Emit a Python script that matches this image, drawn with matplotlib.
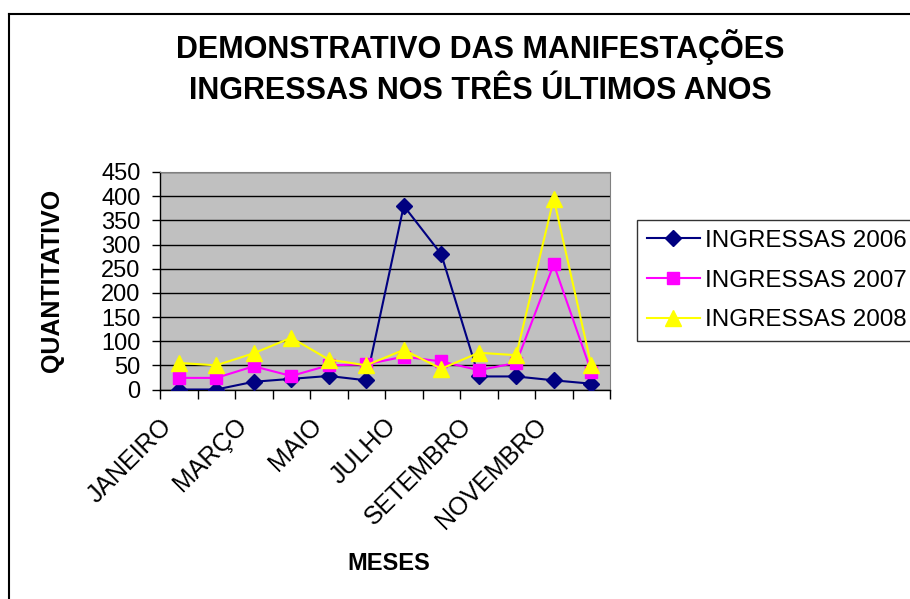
import matplotlib
matplotlib.use("Agg")
import matplotlib.pyplot as plt
from matplotlib.lines import Line2D
from matplotlib.transforms import ScaledTranslation
import numpy as np

plt.rcParams['font.family'] = ['Liberation Sans', 'DejaVu Sans']

meses = ['JANEIRO', 'FEVEREIRO', 'MARÇO', 'ABRIL', 'MAIO', 'JUNHO',
         'JULHO', 'AGOSTO', 'SETEMBRO', 'OUTUBRO', 'NOVEMBRO', 'DEZEMBRO']
ingressas_2006 = [0, 0, 16, 22, 28, 19, 380, 280, 27, 27, 19, 12]
ingressas_2007 = [24, 24, 48, 28, 50, 52, 68, 58, 40, 55, 259, 37]
ingressas_2008 = [55, 50, 75, 107, 62, 50, 82, 43, 76, 71, 395, 50]
series_labels = ['INGRESSAS 2006', 'INGRESSAS 2007', 'INGRESSAS 2008']

W, H = 910, 599
fig = plt.figure(figsize=(W / 100, H / 100), dpi=100)
fig.patch.set_facecolor('white')

# plot area in pixels
x0, y0, x1, y1 = 160, 172, 610, 389.5
ax = fig.add_axes([x0 / W, 1 - y1 / H, (x1 - x0) / W, (y1 - y0) / H])
ax.set_facecolor('#C0C0C0')

x = np.arange(len(meses))
ax.plot(x, ingressas_2006, color='#000080', lw=1.5, marker='D', ms=8,
        mfc='#000080', mec='#000080', label=series_labels[0], zorder=3)
ax.plot(x, ingressas_2007, color='#FF00FF', lw=1.5, marker='s', ms=9,
        mfc='#FF00FF', mec='#FF00FF', label=series_labels[1], zorder=3)
ax.plot(x, ingressas_2008, color='#FFFF00', lw=1.5, marker='^', ms=11,
        mfc='#FFFF00', mec='#FFFF00', label=series_labels[2], zorder=3)

ax.set_xlim(-0.5, len(meses) - 0.5)
ax.set_ylim(0, 450)
ax.set_yticks(np.arange(0, 451, 50))
ax.yaxis.grid(True, color='black', lw=1)
ax.set_axisbelow(True)

# x ticks between categories, labels every other month
ax.set_xticks(np.arange(-0.5, len(meses), 1), minor=True)
ax.set_xticks(x[::2])
ax.set_xticklabels(meses[::2], rotation=45, ha='right', va='center',
                   rotation_mode='anchor', fontsize=18)
ax.tick_params(axis='x', which='major', length=0, pad=25)
ax.tick_params(axis='x', which='minor', length=6.5, width=1, direction='out')
ax.tick_params(axis='y', length=6, width=1, direction='out', labelsize=17, pad=8)
shift = ScaledTranslation(-11 / 100, 2 / 100, fig.dpi_scale_trans)
for lab in ax.get_xticklabels():
    lab.set_transform(lab.get_transform() + shift)

for s in ['top', 'right']:
    ax.spines[s].set_color('#808080')
for s in ['left', 'bottom']:
    ax.spines[s].set_color('black')
    ax.spines[s].set_linewidth(1)

ax.set_xlabel('MESES', fontsize=17, fontweight='bold')
ax.xaxis.set_label_coords((389 - x0) / (x1 - x0), -(552 - y1) / (y1 - y0))
ax.set_ylabel('QUANTITATIVO', fontsize=18, fontweight='bold')
ax.yaxis.set_label_coords(-(x0 - 64) / (x1 - x0), 0.5)

cx = 480 / W
fig.text(cx, 1 - 58 / H, 'DEMONSTRATIVO DAS MANIFESTAÇÕES',
         ha='center', va='baseline', fontsize=22, fontweight='bold')
fig.text(cx, 1 - 99 / H, 'INGRESSAS NOS TRÊS ÚLTIMOS ANOS',
         ha='center', va='baseline', fontsize=22, fontweight='bold')

# legend box runs off the right edge like the original
leg = fig.legend(loc='upper left', bbox_to_anchor=(637 / W, 1 - 220 / H),
                 fontsize=17.4, frameon=True, fancybox=False, handlelength=2.2,
                 handletextpad=0.22, borderpad=0.4, labelspacing=0.74,
                 borderaxespad=0)
leg.get_frame().set_edgecolor('black')
leg.get_frame().set_linewidth(1)

# outer chart frame (left and top edges visible)
fig.add_artist(Line2D([9 / W, 9 / W], [0, 1 - 14 / H], color='black', lw=1.5,
                      transform=fig.transFigure))
fig.add_artist(Line2D([9 / W, 1], [1 - 14 / H, 1 - 14 / H], color='black', lw=1.5,
                      transform=fig.transFigure))

fig.savefig('out.png', dpi=100)
